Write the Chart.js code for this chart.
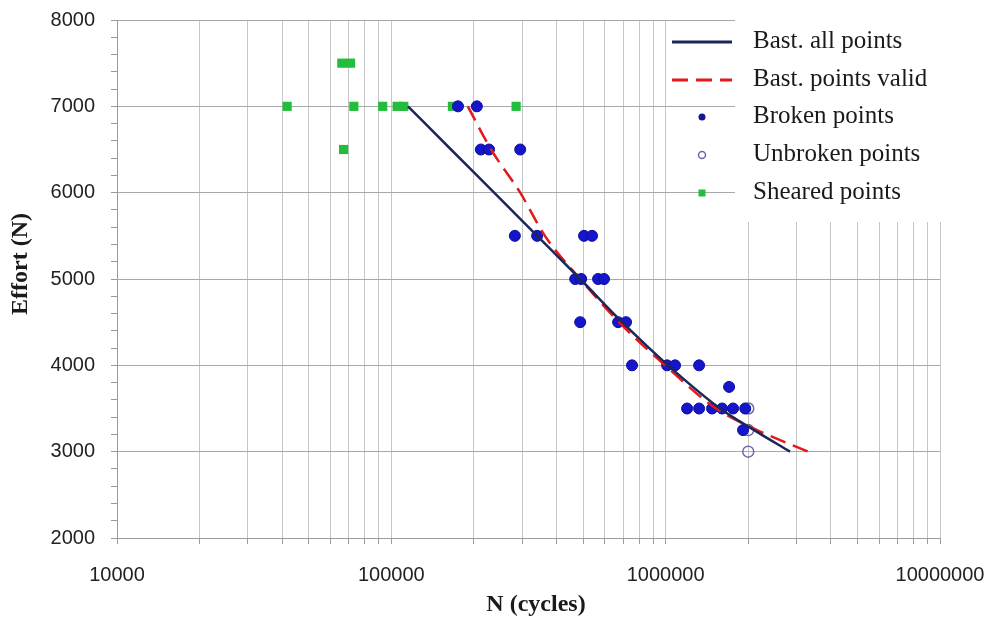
<!DOCTYPE html>
<html><head><meta charset="utf-8">
<script src="https://cdn.jsdelivr.net/npm/chart.js@4.4.1/dist/chart.umd.min.js"></script>
<style>html,body{margin:0;padding:0;background:#fff;}canvas{display:block;}</style>
</head><body>
<canvas id="c" width="988" height="620"></canvas>
<script>
// ---- data ----
const X_TICKS = [10000,20000,30000,40000,50000,60000,70000,80000,90000,
  100000,200000,300000,400000,500000,600000,700000,800000,900000,
  1000000,2000000,3000000,4000000,5000000,6000000,7000000,8000000,9000000,10000000];
const X_LABELS = [10000,100000,1000000,10000000];
const Y_LABEL_STEP = 1000;

const BAST_ALL_N = [115000,165000,237000,340000,488000,694000,1020000,1579000,2101000,2840000];
const BAST_ALL_E = [7000,6500,6000,5500,5000,4500,4000,3500,3250,3000];

const BAST_VALID_N = [190000,231000,295000,363000,488000,676000,995000,1526000,2154000,3305000];
const BAST_VALID_E = [7000,6500,6000,5500,5000,4500,4000,3500,3250,3000];

const BROKEN_N = [175000,205000, 212000,227000,295000, 282000,340000,504000,539000,
  468000,492000,567000,596000, 488000,671000,717000, 754000,1012000,1082000,1324000,
  1703000, 1197000,1324000,1476000,1606000,1761000,1950000, 1915000];
const BROKEN_E = [7000,7000, 6500,6500,6500, 5500,5500,5500,5500,
  5000,5000,5000,5000, 4500,4500,4500, 4000,4000,4000,4000,
  3750, 3500,3500,3500,3500,3500,3500, 3250];

const UNBROKEN_N = [2000000,2000000,2000000];
const UNBROKEN_E = [3500,3250,3000];

const SHEARED_N = [41700,66000,71000,67000,73000,93000,105000,111000,167000,285000];
const SHEARED_E = [7000,7500,7500,6500,7000,7000,7000,7000,7000,7000];

const pts = (xs, ys) => xs.map((x, i) => ({x: x, y: ys[i]}));

// ---- plugins ----
const legendPlugin = {
  id: 'insideLegend',
  beforeDatasetsDraw(chart) {
    const ctx = chart.ctx;
    const ca = chart.chartArea;
    ctx.save();
    ctx.fillStyle = '#ffffff';
    ctx.fillRect(735, ca.top - 6, ca.right + 6 - 735, 222 - (ca.top - 6));
    const rows = [42, 80, 117, 155, 193];
    const ds = chart.data.datasets;
    ds.forEach((d, i) => {
      const y = rows[i];
      ctx.save();
      if (i < 2) {
        ctx.strokeStyle = d.borderColor;
        ctx.lineWidth = 3;
        ctx.setLineDash(d.borderDash || []);
        ctx.beginPath();
        ctx.moveTo(672, y); ctx.lineTo(732, y);
        ctx.stroke();
      } else if (i === 2) {
        ctx.fillStyle = '#16169a';
        ctx.beginPath(); ctx.arc(702, y, 3.5, 0, Math.PI * 2); ctx.fill();
      } else if (i === 3) {
        ctx.strokeStyle = d.borderColor; ctx.lineWidth = 1.5;
        ctx.beginPath(); ctx.arc(702, y, 3.5, 0, Math.PI * 2); ctx.stroke();
      } else {
        ctx.fillStyle = d.backgroundColor;
        ctx.fillRect(698.5, y - 3.5, 7, 7);
      }
      ctx.restore();
      ctx.fillStyle = '#1a1a1a';
      ctx.font = '25px "Liberation Serif", "Times New Roman", serif';
      ctx.textAlign = 'left';
      ctx.textBaseline = 'middle';
      ctx.fillText(d.label, 753, y - 1);
    });
    ctx.restore();
  }
};

const titlesPlugin = {
  id: 'axisTitles',
  afterDraw(chart) {
    const ctx = chart.ctx;
    ctx.save();
    ctx.fillStyle = '#1a1a1a';
    ctx.font = 'bold 24px "Liberation Serif", "Times New Roman", serif';
    ctx.textAlign = 'center';
    ctx.textBaseline = 'middle';
    ctx.fillText('N (cycles)', 536, 605);
    ctx.translate(21, 264);
    ctx.rotate(-Math.PI / 2);
    ctx.fillText('Effort (N)', 0, 0);
    ctx.restore();
  }
};

const tickFont = {family: '"Liberation Sans", Arial, sans-serif', size: 20};

new Chart(document.getElementById('c'), {
  type: 'scatter',
  data: {
    datasets: [
      {label: 'Bast. all points', data: pts(BAST_ALL_N, BAST_ALL_E), showLine: true,
        borderColor: '#1b2758', backgroundColor: '#1b2758', borderWidth: 2.5, pointRadius: 0,
        cubicInterpolationMode: 'monotone', fill: false},
      {label: 'Bast. points valid', data: pts(BAST_VALID_N, BAST_VALID_E), showLine: true,
        borderColor: '#e3191b', backgroundColor: '#e3191b', borderWidth: 2.5, borderDash: [16, 8],
        pointRadius: 0, cubicInterpolationMode: 'monotone', fill: false},
      {label: 'Broken points', data: pts(BROKEN_N, BROKEN_E), pointStyle: 'circle',
        pointRadius: 5.5, backgroundColor: '#1515cc', borderColor: '#0c0c9c', borderWidth: 1},
      {label: 'Unbroken points', data: pts(UNBROKEN_N, UNBROKEN_E), pointStyle: 'circle',
        pointRadius: 5.5, backgroundColor: 'rgba(0,0,0,0)', borderColor: '#6b6ba8', borderWidth: 1.5},
      {label: 'Sheared points', data: pts(SHEARED_N, SHEARED_E), pointStyle: 'rect',
        pointRadius: 6.5, backgroundColor: '#22bd3a', borderColor: '#22bd3a', borderWidth: 0}
    ]
  },
  options: {
    responsive: false,
    animation: false,
    layout: {autoPadding: false, padding: {left: 0, top: 20, right: 48, bottom: 0}},
    plugins: {legend: {display: false}, tooltip: {enabled: false}},
    scales: {
      x: {
        type: 'logarithmic', min: 10000, max: 10000000,
        afterBuildTicks: s => { s.ticks = X_TICKS.map(v => ({value: v})); },
        afterFit: s => { s.height = 82; s.paddingLeft = 0; s.paddingRight = 0; },
        ticks: {autoSkip: false, maxRotation: 0, minRotation: 0, padding: 19, font: tickFont, color: '#222',
          callback: v => X_LABELS.includes(v) ? String(v) : ''},
        grid: {color: '#c6c6c6', tickColor: '#9a9a9a', tickLength: 6, lineWidth: 1},
        border: {color: '#9a9a9a'}
      },
      y: {
        min: 2000, max: 8000,
        afterFit: s => { s.width = 117; s.paddingTop = 0; s.paddingBottom = 0; },
        ticks: {stepSize: 200, maxTicksLimit: 100, autoSkip: false, padding: 16, font: tickFont, color: '#222',
          callback: v => v % Y_LABEL_STEP === 0 ? String(v) : ''},
        grid: {color: c => (c.tick && c.tick.value % Y_LABEL_STEP === 0) ? '#a8a8a8' : 'rgba(0,0,0,0)',
          tickColor: '#9a9a9a', tickLength: 6, lineWidth: 1},
        border: {color: '#9a9a9a'}
      }
    }
  },
  plugins: [legendPlugin, titlesPlugin]
});
</script>
</body></html>
